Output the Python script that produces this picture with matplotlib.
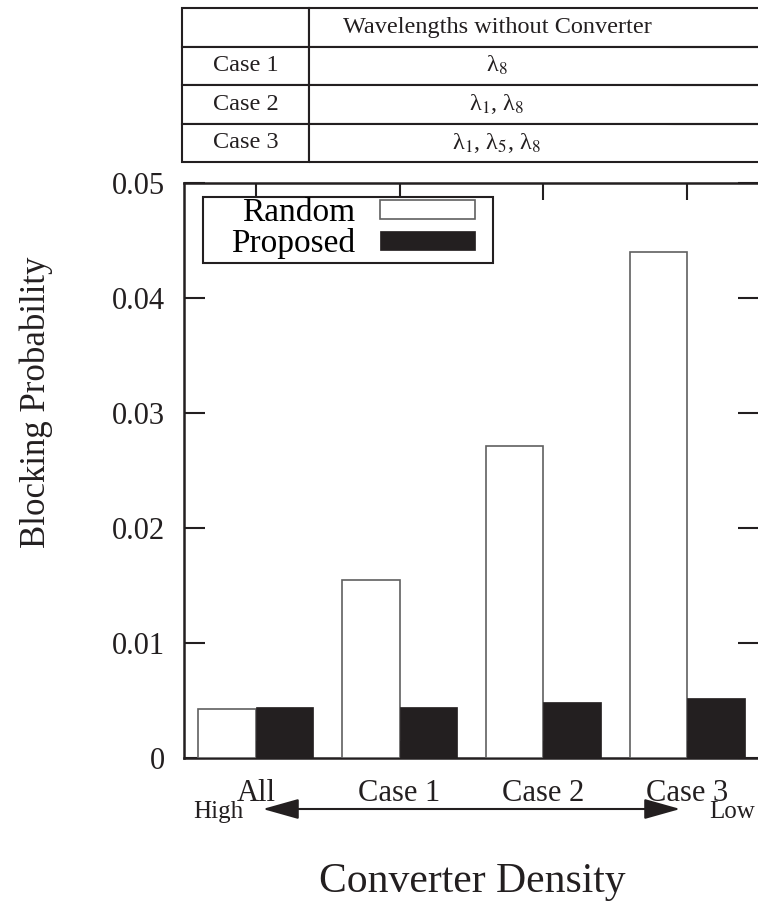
import numpy as np
import matplotlib
matplotlib.use("Agg")
import matplotlib.pyplot as plt
from matplotlib.patches import Rectangle, FancyArrowPatch

plt.rcParams['font.family'] = ['Liberation Serif', 'DejaVu Serif']
plt.rcParams['mathtext.fontset'] = 'stix'

categories = ["All", "Case 1", "Case 2", "Case 3"]
random_bp = [0.0043, 0.0155, 0.0271, 0.0440]
proposed_bp = [0.0044, 0.0044, 0.0049, 0.0052]
labels = ["Random", "Proposed"]

table_rows = [["", "Wavelengths without Converter", ""],
              ["Case 1", "λ$_{8}$", ""],
              ["Case 2", "λ$_{1}$, λ$_{8}$", ""],
              ["Case 3", "λ$_{1}$, λ$_{5}$, λ$_{8}$", ""]]

W, H = 758, 908
ink = '#231f20'
fig = plt.figure(figsize=(W / 100, H / 100), dpi=100)

# main axes
ax = fig.add_axes([184 / W, 150 / H, 575 / W, 575 / H])
x = np.arange(len(categories))
width = 0.4
ax.bar(x - width / 2, random_bp, width, color='white', edgecolor='#606060',
       linewidth=1.2, label=labels[0], zorder=3)
ax.bar(x + width / 2, proposed_bp, width, color=ink, edgecolor=ink,
       linewidth=0.5, label=labels[1], zorder=3)

ax.set_xlim(-0.5, 3.5)
ax.set_ylim(0, 0.05)
ax.set_xticks(x)
ax.set_xticklabels(categories)
ax.set_yticks([0, 0.01, 0.02, 0.03, 0.04, 0.05])
ax.set_yticklabels(["0", "0.01", "0.02", "0.03", "0.04", "0.05"])
ax.tick_params(axis='both', direction='in', length=12, width=1.5,
               labelsize=22, top=True, right=True, pad=14, colors=ink)
ax.tick_params(axis='y', length=15)
ax.tick_params(axis='x', pad=15)
for s in ax.spines.values():
    s.set_linewidth(1.8)
    s.set_color(ink)

# legend (gnuplot style: text first, sample after)
leg = ax.legend(loc='upper right', bbox_to_anchor=(0.506, 0.974), fontsize=24,
                markerfirst=False, frameon=False, handlelength=2.85,
                handleheight=0.5, labelspacing=0.0, borderpad=0,
                handletextpad=0.75, borderaxespad=0)
for t in leg.get_texts():
    t.set_ha('right')
leg.set_zorder(5)
ax.add_patch(Rectangle((0.033, 0.861), 0.504, 0.1147, transform=ax.transAxes,
                       facecolor='white', edgecolor=ink, linewidth=1.5,
                       zorder=4))

# axis labels
fig.text(36 / W, 1 - 402 / H, "Blocking Probability", rotation=90,
         ha='center', va='center', fontsize=25, color=ink)
fig.text(472 / W, 1 - 882 / H, "Converter Density", ha='center',
         va='center', fontsize=30, color=ink)

# high / low arrow
fig.text(193 / W, 1 - 818 / H, "High", ha='left', va='baseline', fontsize=18,
         color=ink)
fig.text(755 / W, 1 - 818 / H, "Low", ha='right', va='baseline', fontsize=18,
         color=ink)
fig.add_artist(FancyArrowPatch(
    (260 / W, 1 - 809 / H), (683 / W, 1 - 809 / H), transform=fig.transFigure,
    arrowstyle='<|-|>,head_length=1.6,head_width=0.45', mutation_scale=14,
    color=ink, linewidth=1.5))

# table at top
tax = fig.add_axes([182 / W, 1 - 162 / H, 590 / W, 154 / H])
tax.axis('off')
tab = tax.table(cellText=table_rows, cellLoc='center', bbox=[0, 0, 1, 1],
                colWidths=[127, 376, 87])
tab.auto_set_font_size(False)
for (r, c), cell in tab.get_celld().items():
    cell.set_linewidth(1.5)
    cell.set_edgecolor(ink)
    cell.get_text().set_fontsize(17.5)
    cell.get_text().set_color(ink)
    if c == 1:
        cell.visible_edges = 'LTB'
    elif c == 2:
        cell.visible_edges = 'TB'

fig.savefig("out.png", dpi=100)
